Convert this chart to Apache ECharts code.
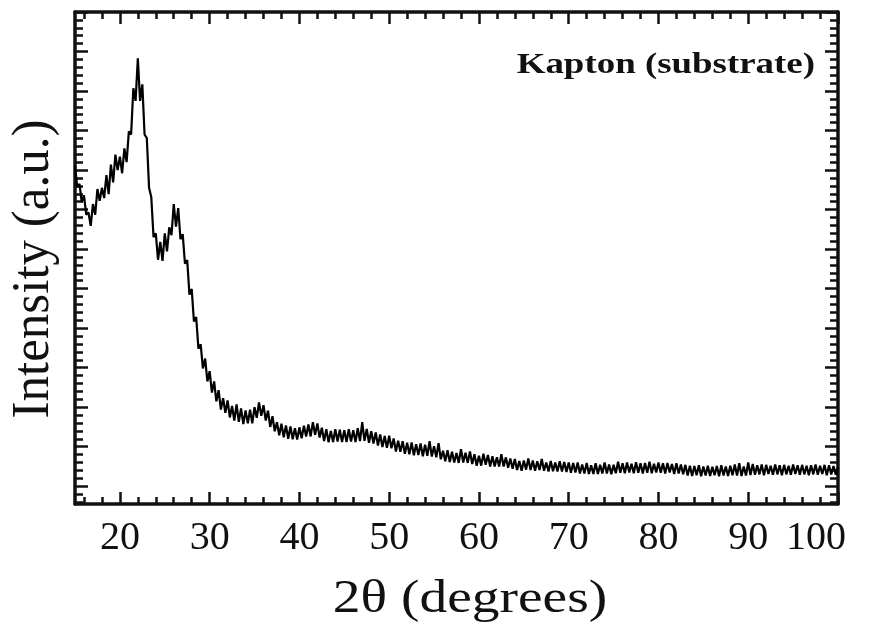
<!DOCTYPE html>
<html>
<head>
<meta charset="utf-8">
<title>Kapton (substrate) XRD</title>
<script src="https://cdn.jsdelivr.net/npm/echarts@6/dist/echarts.min.js"></script>
<style>
  html, body { margin: 0; padding: 0; background: #fff; }
  #chart { width: 874px; height: 630px; }
</style>
</head>
<body>
<div id="chart"></div>
<script>
// 2θ scan positions (degrees)
const twoTheta = [
  15,15.25,15.5,15.75,16,16.25,16.5,16.75,17,17.25,17.5,17.75,18,18.25,18.5,18.75,19,19.25,19.5,19.75,
  20,20.25,20.5,20.75,21,21.25,21.5,21.75,22,22.25,22.5,22.75,23,23.25,23.5,23.75,24,24.25,24.5,24.75,
  25,25.25,25.5,25.75,26,26.25,26.5,26.75,27,27.25,27.5,27.75,28,28.25,28.5,28.75,29,29.25,29.5,29.75,
  30,30.25,30.5,30.75,31,31.25,31.5,31.75,32,32.25,32.5,32.75,33,33.25,33.5,33.75,34,34.25,34.5,34.75,
  35,35.25,35.5,35.75,36,36.25,36.5,36.75,37,37.25,37.5,37.75,38,38.25,38.5,38.75,39,39.25,39.5,39.75,
  40,40.25,40.5,40.75,41,41.25,41.5,41.75,42,42.25,42.5,42.75,43,43.25,43.5,43.75,44,44.25,44.5,44.75,
  45,45.25,45.5,45.75,46,46.25,46.5,46.75,47,47.25,47.5,47.75,48,48.25,48.5,48.75,49,49.25,49.5,49.75,
  50,50.25,50.5,50.75,51,51.25,51.5,51.75,52,52.25,52.5,52.75,53,53.25,53.5,53.75,54,54.25,54.5,54.75,
  55,55.25,55.5,55.75,56,56.25,56.5,56.75,57,57.25,57.5,57.75,58,58.25,58.5,58.75,59,59.25,59.5,59.75,
  60,60.25,60.5,60.75,61,61.25,61.5,61.75,62,62.25,62.5,62.75,63,63.25,63.5,63.75,64,64.25,64.5,64.75,
  65,65.25,65.5,65.75,66,66.25,66.5,66.75,67,67.25,67.5,67.75,68,68.25,68.5,68.75,69,69.25,69.5,69.75,
  70,70.25,70.5,70.75,71,71.25,71.5,71.75,72,72.25,72.5,72.75,73,73.25,73.5,73.75,74,74.25,74.5,74.75,
  75,75.25,75.5,75.75,76,76.25,76.5,76.75,77,77.25,77.5,77.75,78,78.25,78.5,78.75,79,79.25,79.5,79.75,
  80,80.25,80.5,80.75,81,81.25,81.5,81.75,82,82.25,82.5,82.75,83,83.25,83.5,83.75,84,84.25,84.5,84.75,
  85,85.25,85.5,85.75,86,86.25,86.5,86.75,87,87.25,87.5,87.75,88,88.25,88.5,88.75,89,89.25,89.5,89.75,
  90,90.25,90.5,90.75,91,91.25,91.5,91.75,92,92.25,92.5,92.75,93,93.25,93.5,93.75,94,94.25,94.5,94.75,
  95,95.25,95.5,95.75,96,96.25,96.5,96.75,97,97.25,97.5,97.75,98,98.25,98.5,98.75,99,99.25,99.5,99.75,
  100
];

// Measured intensity (arbitrary counts), one value per scan position
const intensity = [
  811,757,765,719,736,687,693,659,714,687,752,722,755,729,787,739,814,769,839,800,
  834,792,855,820,898,890,1007,975,1083,975,1017,890,881,755,731,630,640,573,618,570,
  640,594,655,635,714,657,704,625,638,563,572,485,499,417,428,348,359,298,323,265,
  291,237,265,215,243,194,223,186,217,174,203,166,207,163,197,157,192,159,194,159,
  200,173,212,178,205,166,191,150,177,139,162,129,158,124,154,120,151,119,147,118,
  149,121,153,126,156,126,162,130,159,123,148,114,144,111,140,112,144,113,143,112,
  142,112,144,113,142,112,147,114,162,115,145,110,139,108,136,103,131,99,127,97,
  128,96,121,88,115,87,114,82,110,81,111,78,106,79,108,76,105,77,114,75,
  101,73,109,68,90,63,91,61,87,60,84,59,94,60,85,59,88,56,81,52,
  77,52,82,54,79,50,76,50,73,50,81,50,73,47,70,44,69,41,64,39,
  65,42,70,41,65,39,63,41,69,39,60,37,64,38,60,37,63,37,61,36,
  60,34,59,35,60,32,55,32,59,31,53,31,58,31,54,32,60,32,55,30,
  54,33,62,34,58,33,60,35,57,33,61,34,58,32,59,34,62,33,57,35,
  60,34,58,32,59,35,56,31,58,32,55,30,54,27,52,26,51,28,53,25,
  50,27,52,26,49,28,51,25,53,27,50,26,52,28,55,27,58,26,50,27,
  60,28,56,29,53,30,55,28,54,31,52,29,55,30,53,28,54,30,52,29,
  55,31,53,29,54,30,52,28,53,30,55,29,52,31,54,28,53,30,51,29,
  49
];

// Axis tick positions
const xMajorTicks = [20, 30, 40, 50, 60, 70, 80, 90, 100];
const xMinorTicks = [16, 18, 22, 24, 26, 28, 32, 34, 36, 38, 42, 44, 46, 48, 52, 54, 56, 58,
  62, 64, 66, 68, 72, 74, 76, 78, 82, 84, 86, 88, 92, 94, 96, 98];
const yMajorTicks = [0, 100, 200, 300, 400, 500, 600, 700, 800, 900, 1000, 1100, 1200];
const yMinorTicks = [-40, -20, 20, 40, 60, 80, 120, 140, 160, 180, 220, 240, 260, 280, 320, 340, 360, 380,
  420, 440, 460, 480, 520, 540, 560, 580, 620, 640, 660, 680, 720, 740, 760, 780,
  820, 840, 860, 880, 920, 940, 960, 980, 1020, 1040, 1060, 1080, 1120, 1140, 1160, 1180];

const X_MIN = 15, X_MAX = 100, Y_MIN = -45, Y_MAX = 1200;
const SERIF = '"Liberation Serif", "DejaVu Serif", serif';
const INK = '#111';
const LABEL_SIZE = 40;

function tickAxis(kind, position, values, len, withLine, extra) {
  const base = {
    type: 'value',
    position: position,
    min: kind === 'x' ? X_MIN : Y_MIN,
    max: kind === 'x' ? X_MAX : Y_MAX,
    splitLine: { show: false },
    axisLine: { show: withLine, onZero: false, lineStyle: { color: INK, width: 3.5 } },
    axisTick: {
      show: true, inside: true, length: len, customValues: values,
      lineStyle: { color: INK, width: 2.5 }
    },
    axisLabel: { show: false }
  };
  return Object.assign(base, extra || {});
}

const pairs = twoTheta.map((t, i) => [t, intensity[i]]);

const chart = echarts.init(document.getElementById('chart'), null, { renderer: 'canvas' });
chart.setOption({
  animation: false,
  backgroundColor: '#fff',
  grid: { left: 75, right: 36, top: 12, bottom: 126, containLabel: false },
  graphic: [
    {
      // sample label, top right inside the frame
      type: 'text',
      x: 815, y: 65,
      scaleX: 1.23,
      style: {
        text: 'Kapton (substrate)',
        align: 'right', verticalAlign: 'middle',
        fontFamily: SERIF, fontWeight: 'bold', fontSize: 30, fill: INK
      }
    },
    {
      // x axis title
      type: 'text',
      x: 470, y: 600,
      scaleX: 1.18,
      style: {
        text: '2θ (degrees)',
        align: 'center', verticalAlign: 'middle',
        fontFamily: SERIF, fontSize: 47, fill: INK
      }
    },
    {
      // y axis title, reading bottom to top
      type: 'text',
      x: 34, y: 269,
      rotation: Math.PI / 2,
      scaleY: 1.05,
      style: {
        text: 'Intensity (a.u.)',
        align: 'center', verticalAlign: 'middle',
        fontFamily: SERIF, fontSize: 51, fill: INK
      }
    }
  ],
  xAxis: [
    tickAxis('x', 'bottom', xMajorTicks, 12, true, {
      axisLabel: {
        show: true, customValues: xMajorTicks, margin: 14,
        fontFamily: SERIF, fontSize: LABEL_SIZE, color: INK,
        // the last label is pulled left so it stays inside the canvas
        formatter: v => (v === X_MAX ? '{end|' + v + '}' : String(v)),
        rich: {
          end: { fontFamily: SERIF, fontSize: LABEL_SIZE, color: INK, padding: [0, 44, 0, 0] }
        }
      }
    }),
    tickAxis('x', 'bottom', xMinorTicks, 7, false),
    tickAxis('x', 'top', xMajorTicks, 12, true),
    tickAxis('x', 'top', xMinorTicks, 7, false)
  ],
  yAxis: [
    tickAxis('y', 'left', yMajorTicks, 13, true),
    tickAxis('y', 'left', yMinorTicks, 8, false),
    tickAxis('y', 'right', yMajorTicks, 13, true),
    tickAxis('y', 'right', yMinorTicks, 8, false)
  ],
  series: [{
    type: 'line',
    xAxisIndex: 0,
    yAxisIndex: 0,
    data: pairs,
    showSymbol: false,
    symbol: 'none',
    lineStyle: { color: '#000', width: 2.2 },
    clip: true
  }]
});
</script>
</body>
</html>
